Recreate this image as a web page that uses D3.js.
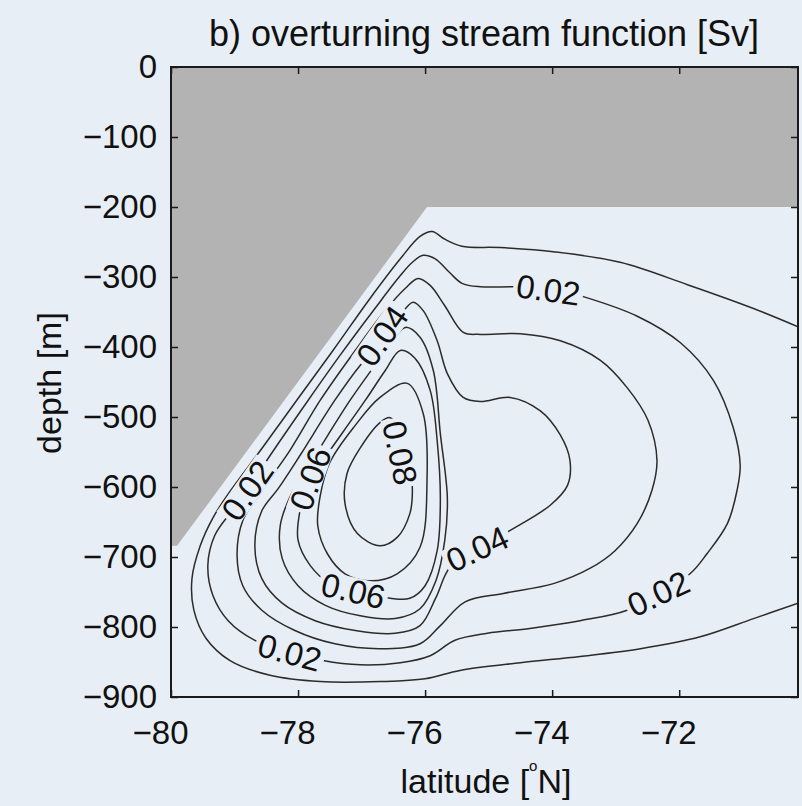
<!DOCTYPE html>
<html><head><meta charset="utf-8">
<script src="https://cdn.jsdelivr.net/npm/d3@7"></script>
<style>body{margin:0;background:#e8eef5;} svg{display:block}</style>
</head><body>
<svg id="chart" width="802" height="806"></svg>
<script>
// ---------- data ----------
const latDomain = [-80, -70.13];
const depthDomain = [-900, 0];
const xTicks = [-80, -78, -76, -74, -72];
const yTicks = [0, -100, -200, -300, -400, -500, -600, -700, -800, -900];
const titleText = "b) overturning stream function [Sv]";
const xLabel = "latitude [";
const yLabel = "depth [m]";

// topography mask (gray)
const topoLat   = [-80, -70.13, -70.13, -75.97, -79.905, -79.905, -80];
const topoDepth = [0,   0,      -200,   -200,   -684,    -684,    -684];

// contour levels (Sv)
const levels = [0.01, 0.02, 0.03, 0.04, 0.05, 0.06, 0.07, 0.08];
// contour 0.01 (open: enters and leaves at the northern edge)
const psi001 = [[-70.13,-371],[-70.83,-345],[-71.87,-311],[-72.93,-279],[-73.98,-264],[-74.82,-258],[-75.42,-256],[-75.69,-246],[-75.89,-235],[-76.08,-242],[-76.39,-274],[-76.87,-331],[-77.45,-405],[-78.02,-476],[-78.57,-545],[-79.06,-605],[-79.34,-644],[-79.54,-684],[-79.67,-731],[-79.64,-776],[-79.45,-816],[-79.07,-848],[-78.44,-869],[-77.65,-878],[-76.71,-878],[-76.00,-874],[-75.45,-862],[-74.50,-851],[-73.56,-842],[-72.61,-831],[-71.67,-814],[-70.83,-788],[-70.13,-766]];
const psi002 = [[-76.03,-269],[-75.84,-274],[-75.61,-294],[-75.42,-309],[-75.13,-314],[-74.58,-314],[-74.03,-316],[-73.51,-328],[-72.66,-356],[-71.98,-394],[-71.46,-448],[-71.15,-515],[-71.04,-569],[-71.09,-605],[-71.24,-652],[-71.56,-695],[-71.83,-724],[-72.35,-752],[-72.82,-776],[-73.56,-791],[-74.35,-802],[-75.02,-809],[-75.53,-819],[-75.92,-841],[-76.39,-851],[-77.02,-854],[-77.61,-848],[-78.13,-836],[-78.68,-819],[-79.10,-791],[-79.34,-755],[-79.42,-712],[-79.31,-669],[-79.04,-634],[-78.80,-605],[-78.44,-555],[-77.84,-476],[-77.34,-412],[-76.79,-345],[-76.39,-298],[-76.20,-279]];
const psi003 = [[-76.11,-302],[-75.92,-312],[-75.69,-341],[-75.40,-379],[-75.13,-382],[-74.50,-381],[-73.87,-391],[-73.24,-419],[-72.82,-458],[-72.49,-505],[-72.35,-562],[-72.43,-605],[-72.66,-652],[-73.01,-691],[-73.40,-716],[-73.98,-738],[-74.77,-752],[-75.37,-764],[-75.76,-798],[-76.08,-824],[-76.71,-831],[-77.42,-824],[-78.05,-805],[-78.57,-776],[-78.87,-741],[-78.96,-698],[-78.87,-648],[-78.57,-605],[-78.13,-548],[-77.65,-476],[-77.10,-405],[-76.63,-348],[-76.31,-316]];
const psi004 = [[-76.19,-336],[-76.03,-348],[-75.81,-391],[-75.65,-438],[-75.40,-472],[-75.13,-478],[-74.66,-472],[-74.19,-491],[-73.87,-526],[-73.72,-562],[-73.76,-598],[-74.03,-626],[-74.66,-662],[-75.13,-686],[-75.61,-715],[-75.83,-758],[-76.08,-798],[-76.47,-809],[-77.10,-805],[-77.73,-791],[-78.25,-766],[-78.57,-731],[-78.68,-684],[-78.57,-634],[-78.31,-602],[-77.97,-555],[-77.42,-476],[-77.02,-426],[-76.66,-391],[-76.39,-355]];
const psi005 = [[-76.31,-372],[-76.08,-386],[-75.87,-434],[-75.76,-524],[-75.65,-615],[-75.69,-676],[-75.83,-734],[-76.08,-774],[-76.47,-788],[-77.02,-784],[-77.57,-769],[-78.00,-741],[-78.25,-702],[-78.28,-655],[-78.08,-605],[-77.73,-555],[-77.18,-476],[-76.79,-426],[-76.47,-386]];
const psi006 = [[-76.39,-405],[-76.16,-416],[-75.92,-462],[-75.81,-534],[-75.76,-619],[-75.81,-691],[-76.00,-741],[-76.24,-759],[-76.55,-759],[-77.13,-748],[-77.50,-738],[-77.81,-712],[-78.00,-676],[-77.97,-634],[-77.81,-588],[-77.50,-548],[-76.94,-476],[-76.63,-434]];
const psi007 = [[-76.28,-452],[-76.03,-495],[-75.97,-591],[-76.08,-686],[-76.44,-724],[-76.87,-734],[-77.26,-724],[-77.54,-695],[-77.69,-655],[-77.65,-612],[-77.50,-565],[-77.10,-512],[-76.71,-472]];
const psi008 = [[-76.55,-501],[-76.31,-534],[-76.24,-569],[-76.20,-605],[-76.24,-638],[-76.44,-672],[-76.71,-684],[-77.07,-666],[-77.26,-624],[-77.23,-581],[-77.02,-544],[-76.71,-508]];
const contourLines = [psi001, psi002, psi003, psi004, psi005, psi006, psi007, psi008];
const contourClosed = [false, true, true, true, true, true, true, true];

// inline contour labels
const labelText  = ["0.02", "0.04", "0.08", "0.06", "0.02", "0.04", "0.06", "0.02", "0.02"];
const labelLat   = [-74.06, -76.68, -76.39, -77.81, -78.80, -75.18, -77.13, -72.33, -78.13];
const labelDepth = [-318,   -384,   -551,   -588,   -605,   -688,   -748,   -752,   -836];
const labelAngle = [8, -55, 78, -70, -55, -25, 13, -25, 15];

// ---------- drawing ----------
const bg = "#e8eef5";
const svg = d3.select("#chart");
const W = 802, H = 806;
const L = 171, R = 798, T = 67, B = 697;
const x = d3.scaleLinear().domain(latDomain).range([L, R]);
const y = d3.scaleLinear().domain(depthDomain).range([B, T]);
const font = "'Liberation Sans', Arial, Helvetica, sans-serif";

svg.append("rect").attr("width", W).attr("height", H).attr("fill", bg);

svg.append("defs").append("clipPath").attr("id", "clip")
  .append("rect").attr("x", L).attr("y", T).attr("width", R - L).attr("height", B - T);

const plot = svg.append("g").attr("clip-path", "url(#clip)");

// contour lines
contourLines.forEach((pts, i) => {
  const line = d3.line()
    .x(d => x(d[0])).y(d => y(d[1]))
    .curve(contourClosed[i] ? d3.curveCatmullRomClosed.alpha(0.5) : d3.curveCatmullRom.alpha(0.5));
  plot.append("path").attr("d", line(pts))
    .attr("fill", "none").attr("stroke", "#2b2b2b").attr("stroke-width", 1.5)
    .attr("stroke-linejoin", "round");
});

// topography mask
const topoPts = topoLat.map((v, i) => [x(v), y(topoDepth[i])]);
plot.append("path").attr("d", "M" + topoPts.join("L") + "Z")
  .attr("fill", "#b3b3b3").attr("stroke", "none");

// contour labels (with a background box that breaks the line)
labelText.forEach((t, i) => {
  const g = plot.append("g")
    .attr("transform", `translate(${x(labelLat[i])},${y(labelDepth[i])}) rotate(${labelAngle[i]})`);
  const box = g.append("rect").attr("fill", bg);
  const txt = g.append("text")
    .attr("text-anchor", "middle").attr("dy", "0.36em")
    .attr("font-family", font).attr("font-size", 33)
    .attr("fill", "#111")
    .text(t);
  const w = txt.node().getComputedTextLength();
  box.attr("x", -w / 2 - 3).attr("y", -13).attr("width", w + 6).attr("height", 26);
});

// frame
svg.append("rect").attr("x", L).attr("y", T).attr("width", R - L).attr("height", B - T)
  .attr("fill", "none").attr("stroke", "#1a1a1a").attr("stroke-width", 2);

function styleAxis(g) {
  g.select(".domain").remove();
  g.selectAll(".tick line").attr("stroke", "#1a1a1a").attr("stroke-width", 1.5);
  g.selectAll(".tick text").attr("font-family", font).attr("font-size", 33).attr("fill", "#111");
}

const xAxis = svg.append("g").attr("transform", `translate(0,${B})`)
  .call(d3.axisBottom(x).tickValues(xTicks).tickSize(-7).tickPadding(24).tickFormat(d3.format("d")));
styleAxis(xAxis);
xAxis.selectAll(".tick text").attr("dx", -11);

svg.append("g").attr("transform", `translate(0,${T})`)
  .call(d3.axisTop(x).tickValues(xTicks).tickSize(-7).tickFormat(""))
  .call(g => styleAxis(g));

const yAxis = svg.append("g").attr("transform", `translate(${L},0)`)
  .call(d3.axisLeft(y).tickValues(yTicks).tickSize(-7).tickPadding(14).tickFormat(d3.format("d")));
styleAxis(yAxis);

svg.append("g").attr("transform", `translate(${R},0)`)
  .call(d3.axisRight(y).tickValues(yTicks).tickSize(-7).tickFormat(""))
  .call(g => styleAxis(g));

// title
svg.append("text").attr("x", 484).attr("y", 46).attr("text-anchor", "middle")
  .attr("font-family", font).attr("font-size", 36).attr("fill", "#111")
  .text(titleText);

// x label with degree
const xl = svg.append("text").attr("x", 486).attr("y", 793).attr("text-anchor", "middle")
  .attr("font-family", font).attr("font-size", 34).attr("fill", "#111");
xl.append("tspan").text(xLabel);
xl.append("tspan").attr("font-size", 15).attr("dy", -22).text("o");
xl.append("tspan").attr("dy", 22).text("N]");

// y label
svg.append("text").attr("transform", "translate(61,383) rotate(-90)").attr("text-anchor", "middle")
  .attr("font-family", font).attr("font-size", 34).attr("fill", "#111")
  .text(yLabel);
</script>
</body></html>
